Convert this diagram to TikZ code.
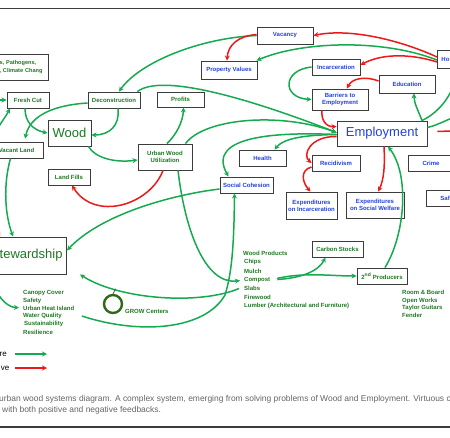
\documentclass[tikz,border=0pt]{standalone}
\usepackage{fontspec}
\setmainfont{Liberation Sans}
\usetikzlibrary{arrows.meta}

\definecolor{posgreen}{RGB}{22,170,80}
\definecolor{negred}{RGB}{235,25,25}
\definecolor{txtgreen}{RGB}{30,120,35}
\definecolor{txtblue}{RGB}{35,65,225}
\definecolor{boxgray}{RGB}{60,60,60}
\definecolor{capgray}{RGB}{100,100,100}
\definecolor{growgreen}{RGB}{45,105,25}

\newcommand{\lbl}{\fontsize{6}{7}\selectfont\bfseries}
\newcommand{\biglbl}{\fontsize{13}{15}\selectfont}
\newcommand{\caplbl}{\fontsize{8.45}{9.5}\selectfont}

\tikzset{
  box/.style={draw=boxgray,fill=white,line width=0.9pt,inner sep=1pt,align=center,font=\lbl},
  gbox/.style={box,text=txtgreen},
  bbox/.style={box,text=txtblue},
  poslink/.style={draw=posgreen,line width=1.5pt,-{Stealth[length=5pt,width=5pt]}},
  neglink/.style={draw=negred,line width=1.5pt,-{Stealth[length=5pt,width=5pt]}},
  listitem/.style={anchor=west,inner sep=0pt,font=\lbl,text=txtgreen},
}

\begin{document}
\begin{tikzpicture}[x=1pt,y=-1pt]
    \useasboundingbox (0,0) rectangle (450,437);
    \clip (0,0) rectangle (450,437);
    \draw[boxgray,line width=0.8pt] (0,8) -- (450,8);
    \draw[boxgray,line width=1.2pt] (0,427) -- (450,427);

    % wood side
    \node[gbox,anchor=east,text width=47pt,align=left,inner xsep=2pt,minimum height=26pt,font=\fontsize{5.6}{7.5}\selectfont\bfseries] (pests) at (49,67) {s, Pathogens,\\, Climate Chang};
    \node[gbox,minimum width=42pt,minimum height=16pt] (fresh) at (28,100) {Fresh Cut};
    \node[gbox,minimum width=52pt,minimum height=16pt] (decon) at (114,100) {Deconstruction};
    \node[gbox,minimum width=43pt,minimum height=26pt,font=\biglbl] (wood) at (69.5,133) {Wood};
    \node[gbox,minimum width=53pt,minimum height=16pt] (vacant) at (16.5,150) {Vacant Land};
    \node[gbox,minimum width=47pt,minimum height=15pt] (profits) at (180.5,99.5) {Profits};
    \node[gbox,minimum width=54pt,minimum height=26pt] (uwu) at (165,157) {Urban Wood\\Utilization};
    \node[gbox,minimum width=42pt,minimum height=16pt] (landfills) at (69,177) {Land Fills};
    \node[gbox,anchor=east,inner xsep=4pt,minimum height=37pt,font=\biglbl] (stew) at (67,255.5) {tewardship};
    \node[gbox,minimum width=51pt,minimum height=16pt] (carbon) at (337.5,249) {Carbon Stocks};
    \node[gbox,minimum width=50pt,minimum height=16pt] (prod2) at (382,276) {2\textsuperscript{nd} Producers};

    % employment side
    \node[bbox,minimum width=56pt,minimum height=17pt] (vacancy) at (285,35.5) {Vacancy};
    \node[bbox,minimum width=56pt,minimum height=18pt] (propval) at (229,70) {Property Values};
    \node[bbox,minimum width=48pt,minimum height=16pt] (incarc) at (336,67) {Incarceration};
    \node[bbox,anchor=west,text width=30pt,align=left,inner xsep=4pt,minimum height=18pt] (housing) at (437,59) {Ho};
    \node[bbox,minimum width=56pt,minimum height=18pt] (educ) at (407,84) {Education};
    \node[bbox,minimum width=56pt,minimum height=21pt] (barriers) at (340,99.5) {Barriers to\\Employment};
    \node[bbox,minimum width=90pt,minimum height=25pt,font=\biglbl] (empl) at (382,133.5) {Employment};
    \node[bbox,minimum width=47pt,minimum height=16pt] (health) at (262.5,158) {Health};
    \node[bbox,minimum width=48pt,minimum height=16pt] (recid) at (336,163) {Recidivism};
    \node[bbox,minimum width=46pt,minimum height=16pt] (crime) at (431,163) {Crime};
    \node[bbox,minimum width=53pt,minimum height=16pt] (socco) at (246.5,185) {Social Cohesion};
    \node[bbox,minimum width=51pt,minimum height=27pt] (expinc) at (311.5,205.5) {Expenditures\\on Incarceration};
    \node[bbox,minimum width=58pt,minimum height=26pt] (expsw) at (375,205) {Expenditures\\on Social Welfare};
    \node[bbox,anchor=west,inner xsep=14pt,minimum height=16pt] (safety) at (426,198) {Saf};

    % lists
    \node[listitem] (wprod) at (243,253) {Wood Products};
    \node[listitem] (chips) at (244,262) {Chips};
    \node[listitem] (mulch) at (244,271) {Mulch};
    \node[listitem] (compost) at (244,280) {Compost};
    \node[listitem] (slabs) at (244,288.5) {Slabs};
    \node[listitem] (firewd) at (244,297) {Firewood};
    \node[listitem] (lumber) at (244,306) {Lumber (Architectural and Furniture)};
    \node[listitem,anchor=north west,align=left,font=\fontsize{6}{7.7}\selectfont\bfseries] (outlets) at (402,290) {Room \& Board\\Open Works\\Taylor Guitars\\Fender};
    \node[listitem] (canopy) at (23,293) {Canopy Cover};
    \node[listitem] (safetxt) at (23,300.5) {Safety};
    \node[listitem] (uhi) at (23,308) {Urban Heat Island};
    \node[listitem] (water) at (23,316) {Water Quality};
    \node[listitem] (sust) at (24,324) {Sustainability};
    \node[listitem] (resil) at (23,332) {Resilience};
    \node[draw=growgreen,line width=2.4pt,circle,minimum size=18pt,inner sep=0pt] (grow) at (113,304) {};
    \node[listitem] (growlbl) at (125,311) {GROW Centers};

    % positive links
    \draw[poslink] (vacancy.west) .. controls (200,38) and (140,62) .. ([xshift=5pt]decon.north);
    \draw[poslink] ([yshift=-1pt]housing.west) .. controls (380,38) and (300,42) .. ([xshift=-1pt]propval.north east);
    \draw[poslink] (incarc.west) .. controls (282,70) and (282,98) .. (barriers.west);
    \draw[poslink] (housing.south) .. controls (456,92) and (440,112) .. ([xshift=40pt]empl.north) .. controls (418,110) and (414,103) .. ([xshift=7pt]educ.south);
    \coordinate (offe) at (460,115);
    \draw[poslink] ([yshift=6pt]empl.east) .. controls (438,125) and (446,120) .. (offe);
    \draw[poslink] ([xshift=-3pt]decon.north east) .. controls (160,74) and (240,95) .. ([yshift=1pt]empl.west);
    \draw[poslink] ([xshift=-7pt]uwu.north east) .. controls (205,118) and (280,112) .. ([yshift=1pt]empl.west);
    \draw[poslink] ([yshift=-1pt]empl.west) .. controls (310,135) and (285,137) .. ([xshift=12pt]health.north);
    \draw[poslink] ([yshift=-1pt]empl.west) .. controls (280,132) and (205,135) .. ([xshift=-18pt]socco.north);
    \draw[poslink] ([xshift=3pt]prod2.north) .. controls (405,235) and (410,175) .. ([xshift=6pt]empl.south);
    \draw[poslink,shorten <=7pt] (compost.east) .. controls (305,272) and (330,276) .. (prod2.west);
    \draw[poslink,shorten <=7pt] (compost.east) .. controls (300,278) and (318,272) .. ([xshift=-12pt]carbon.south);
    \draw[poslink,shorten >=4pt] ([xshift=13pt]uwu.south) .. controls (185,230) and (205,285) .. (compost.west);
    \draw[poslink] ([xshift=20pt]water.east) .. controls (140,335) and (205,330) .. (225,295) .. controls (233,270) and (234,235) .. ([xshift=-12pt]socco.south);
    \draw[poslink] ([yshift=-4pt]socco.west) .. controls (170,195) and (100,215) .. ([yshift=5pt]stew.east);
    \draw[poslink] ([xshift=-5pt]slabs.west) .. controls (200,305) and (120,300) .. ([xshift=13pt]stew.south east);
    \draw[boxgray,line width=0.7pt] (grow.north) -- ++(2.5,-5);
    \draw[poslink] ([xshift=-3pt]wood.south east) .. controls (95,158) and (115,163) .. ([yshift=-3pt]uwu.west);
    \draw[poslink] ([xshift=2pt]uwu.north) .. controls (176,135) and (183,122) .. ([xshift=3pt]profits.south);
    \draw[poslink] ([xshift=4pt]decon.south) .. controls (120,125) and (110,135) .. ([yshift=-2pt]wood.east);
    \draw[poslink,shorten >=3pt] ([yshift=-3pt]decon.west) .. controls (55,105) and (30,115) .. ([xshift=8pt]vacant.north);
    \draw[poslink] ([xshift=-3pt]fresh.south) .. controls (25,122) and (33,130) .. (wood.west);
    \coordinate (offf) at (-10,100);
    \draw[poslink] (offf) -- (fresh.west);
    \draw[poslink] (vacant.north west) .. controls (-3,128) and (5,118) .. ([xshift=-18pt]fresh.south);
    \draw[poslink] ([xshift=-6pt]vacant.south) .. controls (3,185) and (5,215) .. ([xshift=-18pt]stew.north);
    \coordinate (offs) at (-6,286);
    \draw[poslink,shorten >=4pt] (offs) .. controls (0,300) and (8,307) .. (uhi.west);

    % negative links
    \draw[neglink] ([yshift=1pt]vacancy.west) .. controls (238,36) and (228,45) .. ([xshift=-2pt]propval.north);
    \draw[neglink] ([yshift=2pt]housing.west) .. controls (400,40) and (350,28) .. (vacancy.east);
    \draw[neglink] ([yshift=-3pt]housing.west) .. controls (415,55) and (385,52) .. ([yshift=2pt]incarc.east);
    \draw[neglink] ([yshift=3pt]educ.west) .. controls (366,76) and (352,78) .. ([xshift=7pt]barriers.north);
    \coordinate (offr) at (460,131);
    \draw[neglink,shorten <=10pt] ([yshift=2pt]empl.east) -- (offr);
    \draw[neglink] ([xshift=-18pt]barriers.south) .. controls (321,120) and (326,127) .. ([yshift=7pt]empl.west);
    \draw[neglink] ([yshift=-3pt]empl.west) .. controls (310,136) and (302,155) .. (recid.west);
    \draw[neglink] ([yshift=-4pt]recid.west) .. controls (300,170) and (302,182) .. ([xshift=-1pt]expinc.north);
    \draw[neglink] ([xshift=2pt]empl.south) .. controls (385,165) and (384,180) .. ([xshift=3pt]expsw.north);
    \draw[neglink] ([xshift=-2pt]uwu.south) .. controls (150,205) and (95,222) .. ([xshift=3pt]landfills.south);
    \coordinate (offn) at (-4,156);
    \draw[neglink] (offn) .. controls (3,170) and (-12,215) .. ([xshift=5pt]stew.north west);

    % legend and caption
    \node[anchor=east,inner sep=0pt,font=\fontsize{8}{9}\selectfont] (lgptxt) at (7,354) {re};
    \node[anchor=east,inner sep=0pt,font=\fontsize{8}{9}\selectfont] (lgntxt) at (9.5,368) {ve};
    \draw[poslink] ([xshift=8pt]lgptxt.east) -- ++(32,0);
    \draw[neglink] ([xshift=5.5pt]lgntxt.east) -- ++(32,0);
    \node[anchor=west,inner sep=0pt,font=\caplbl,text=capgray] (cap1) at (-1,399) {urban wood systems diagram. A complex system, emerging from solving problems of Wood and Employment. Virtuous c};
    \node[anchor=west,inner sep=0pt,font=\caplbl,text=capgray] (cap2) at (2,410) {with both positive and negative feedbacks.};
\end{tikzpicture}
\end{document}
